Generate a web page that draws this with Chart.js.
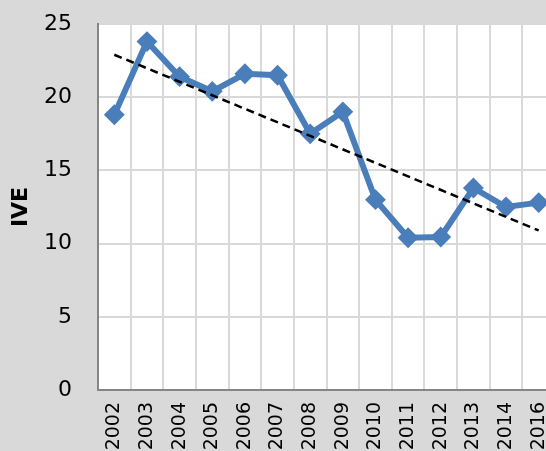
<!DOCTYPE html>
<html>
<head>
<meta charset="utf-8">
<script src="https://cdn.jsdelivr.net/npm/chart.js@4"></script>
<style>
    html, body { margin: 0; padding: 0; overflow: hidden; background: #d9d9d9; }
    #wrap { width: 566px; height: 451px; }
</style>
</head>
<body>
<div id="wrap"><canvas id="iveChart"></canvas></div>
<script>
    /* ================= DATA ================= */
    const years = ['2002', '2003', '2004', '2005', '2006', '2007', '2008',
                   '2009', '2010', '2011', '2012', '2013', '2014', '2016'];
    const iveValues = [18.8, 23.8, 21.4, 20.4, 21.6, 21.5, 17.5,
                       19.0, 13.0, 10.4, 10.45, 13.8, 12.5, 12.8];
    // linear trend, read at first and last year
    const trendEnds = [22.9, 10.9];
    const yTicks = [0, 5, 10, 15, 20, 25];

    const trendValues = years.map((y, i) =>
        i === 0 ? trendEnds[0] : (i === years.length - 1 ? trendEnds[1] : null));

    /* ================= PLOT BACKGROUND ================= */
    const plotBg = {
        id: 'plotBg',
        beforeDraw(chart) {
            const { ctx, chartArea: a } = chart;
            ctx.save();
            ctx.fillStyle = '#ffffff';
            ctx.fillRect(a.left, a.top, a.right - a.left, a.bottom - a.top);
            ctx.restore();
        }
    };

    /* ================= CHART ================= */
    new Chart(document.getElementById('iveChart'), {
        type: 'line',
        data: {
            labels: years,
            datasets: [{
                label: 'IVE',
                data: iveValues,
                borderColor: '#4a7ebb',
                backgroundColor: '#4a7ebb',
                borderWidth: 6,
                pointStyle: 'rectRot',
                pointRadius: 9,
                pointBorderWidth: 2,
                pointBorderColor: '#4a7ebb',
                pointBackgroundColor: '#4a7ebb',
                tension: 0,
                order: 2
            }, {
                label: 'Trend',
                data: trendValues,
                spanGaps: true,
                borderColor: '#000000',
                borderWidth: 2.5,
                borderDash: [8, 5],
                pointRadius: 0,
                fill: false,
                order: 1
            }]
        },
        options: {
            responsive: true,
            maintainAspectRatio: false,
            animation: false,
            layout: { padding: { top: 24, right: 0, left: 0, bottom: 0 } },
            plugins: {
                legend: { display: false },
                tooltip: { enabled: false }
            },
            scales: {
                x: {
                    offset: true,
                    afterFit: scale => {
                        scale.height = 61;
                        scale.paddingLeft = 0;
                        scale.paddingRight = 0;
                    },
                    ticks: {
                        color: '#000',
                        font: { family: 'DejaVu Sans', size: 19 },
                        minRotation: 90,
                        maxRotation: 90,
                        autoSkip: false,
                        padding: 12
                    },
                    grid: { offset: true, color: '#d9d9d9', lineWidth: 2, drawTicks: false },
                    border: { color: '#868686', width: 2 }
                },
                y: {
                    min: 0,
                    max: 25,
                    afterFit: scale => {
                        scale.width = 98;
                        scale.paddingTop = 0;
                        scale.paddingBottom = 0;
                    },
                    afterBuildTicks: scale => {
                        scale.ticks = yTicks.map(v => ({ value: v }));
                    },
                    ticks: {
                        color: '#000',
                        font: { family: 'DejaVu Sans', size: 22 },
                        padding: 26
                    },
                    title: {
                        display: true,
                        text: 'IVE',
                        color: '#000',
                        font: { family: 'DejaVu Sans', size: 22, weight: 'bold' },
                        padding: { top: 8, bottom: 0 }
                    },
                    grid: { color: '#d9d9d9', lineWidth: 2, drawTicks: false },
                    border: { color: '#868686', width: 2 }
                }
            }
        },
        plugins: [plotBg]
    });
</script>
</body>
</html>
